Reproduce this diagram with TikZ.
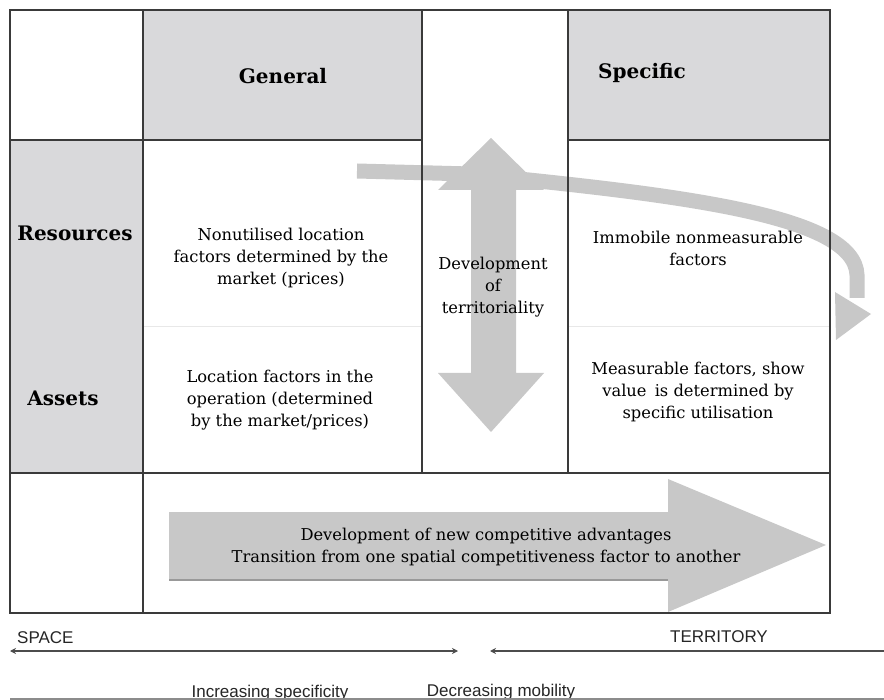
\documentclass[tikz,border=0pt]{standalone}
\usepackage{fontspec}
\setmainfont{DejaVu Serif}
\newfontfamily\labelfont{Liberation Sans}
\usetikzlibrary{arrows.meta}
\definecolor{cellgray}{HTML}{D9D9DB}
\definecolor{arrowgray}{HTML}{C8C8C8}
\definecolor{gridline}{HTML}{3A3A3A}
\definecolor{faintline}{HTML}{E8E8E8}
\tikzset{
  grid/.style={draw=gridline, line width=1.4pt},
  thickgrid/.style={draw=gridline, line width=2.4pt},
  cell/.style={font=\fontsize{16.3}{22}\selectfont, align=center, inner sep=0pt},
  head/.style={font=\fontsize{20}{22}\selectfont\bfseries, inner sep=0pt},
  sidelabel/.style={font=\fontsize{20}{22}\selectfont\bfseries, inner sep=0pt},
  axislabel/.style={font=\labelfont\fontsize{17}{19}\selectfont, text=black!85, inner sep=0pt},
  axisarrow/.style={draw=black!70, line width=1.1pt},
  bigarrow/.style={fill=arrowgray, draw=none}
}
\begin{document}
\begin{tikzpicture}[x=1pt,y=-1pt]
\useasboundingbox (0,0) rectangle (884,700);
\fill[white] (0,0) rectangle (884,700);
% gray cells
\fill[cellgray] (143,10) rectangle (422,140);
\fill[cellgray] (568,10) rectangle (830,140);
\fill[cellgray] (10,140) rectangle (143,473);
% faint row separators
\draw[faintline, line width=1pt] (143,327) -- (422,327);
\draw[faintline, line width=1pt] (568,327) -- (830,327);
% vertical double arrow
\fill[arrowgray] (491,138) -- (544,190) -- (516,190) -- (516,373) -- (544,373)
  -- (491,432) -- (438,373) -- (471,373) -- (471,190) -- (438,190) -- cycle;
% curved arrow
\coordinate (cstart) at (357,171);
\coordinate (cmid) at (470,174);
\coordinate (cend) at (857,298);
\draw[arrowgray, line width=15pt]
  (cstart) -- (cmid) .. controls (680,195) and (855,215) .. (857,275) -- (cend);
\fill[arrowgray] (835,292) -- (871,314) -- (836,340) -- cycle;
% big horizontal arrow
\fill[arrowgray] (169,512) -- (668,512) -- (668,479) -- (826,545) -- (668,612)
  -- (668,580) -- (169,580) -- cycle;
\draw[black!40, line width=1.2pt] (169,580) -- (668,580);
% grid
\draw[grid] (10,10) rectangle (830,613);
\draw[grid] (143,10) -- (143,613);
\draw[grid] (422,10) -- (422,473);
\draw[grid] (568,10) -- (568,473);
\draw[thickgrid] (10,140) -- (422,140);
\draw[thickgrid] (568,140) -- (830,140);
\draw[thickgrid] (10,473) -- (830,473);
% texts
\node[head] (general) at (283,76) {General};
\node[head] (specific) at (642,73) {Specific};
\node[sidelabel] (resources) at (75,233) {Resources};
\node[sidelabel] (assets) at (63,398) {Assets};
\node[cell] (nonutil) at (281,258) {Nonutilised location\\factors determined by the\\market (prices)};
\node[cell] (locfact) at (280,400) {Location factors in the\\operation (determined\\by the market/prices)};
\node[cell] (devterr) at (493,287) {Development\\of\\territoriality};
\node[cell] (immobile) at (698,248) {Immobile nonmeasurable\\factors};
\node[cell] (measurable) at (698,392) {Measurable factors, show\\value\enspace is determined by\\specific utilisation};
\node[cell] (newadv) at (486,547) {Development of new competitive advantages\\Transition from one spatial competitiveness factor to another};
% axis
\node[axislabel, anchor=west] (space) at (17,638) {SPACE};
\node[axislabel, anchor=east] (territory) at (768,637) {TERRITORY};
\coordinate (a1) at (10,651);
\coordinate (a2) at (458,651);
\coordinate (b1) at (490,651);
\coordinate (b2) at (884,651);
\draw[axisarrow, {Stealth[length=6pt,width=6pt]}-{Stealth[length=6pt,width=6pt]}] (a1) -- (a2);
\draw[axisarrow, {Stealth[length=6pt,width=6pt]}-] (b1) -- (b2);
\node[axislabel, anchor=base] (incspec) at (270,697) {Increasing specificity};
\node[axislabel, anchor=base] (decmob) at (501,696) {Decreasing mobility};
\coordinate (l1) at (10,699.5);
\coordinate (l2) at (884,699.5);
\fill[white] (0,698) rectangle (884,700);
\draw[black!45, line width=2.5pt] (l1) -- (l2);
\end{tikzpicture}
\end{document}
